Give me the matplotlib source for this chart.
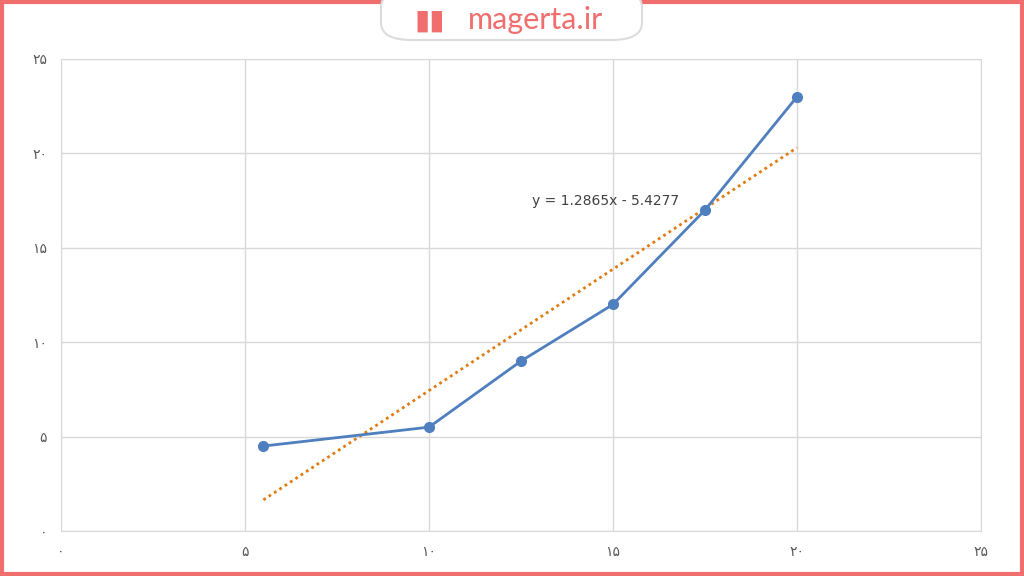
import matplotlib
matplotlib.use("Agg")
import matplotlib.pyplot as plt
from matplotlib.patches import FancyBboxPatch, Rectangle

x_vals = [5.5, 10, 12.5, 15, 17.5, 20]
y_vals = [4.5, 5.5, 9, 12, 17, 23]
slope, intercept = 1.2865, -5.4277
tick_vals = [0, 5, 10, 15, 20, 25]
tick_labels = ["۰", "۵", "۱۰", "۱۵", "۲۰", "۲۵"]

LINE = "#4f7fbf"
TREND = "#e07b10"
GRID = "#d9d9d9"
BRAND = "#f06e6e"

fig = plt.figure(figsize=(10.24, 5.76), dpi=100, facecolor="white")
ax = fig.add_axes([61 / 1024, 45 / 576, 920 / 1024, 472 / 576])

ax.plot(x_vals, y_vals, color=LINE, linewidth=2, marker="o", markersize=7, zorder=3)
tx = [x_vals[0], x_vals[-1]]
ax.plot(tx, [slope * v + intercept for v in tx], color=TREND, linestyle=(0, (1, 1.3)),
        linewidth=2, zorder=2)
ax.text(14.8, 17.1, f"y = {slope}x - {abs(intercept)}", fontsize=10, color="#404040",
        ha="center", va="bottom")

ax.set_xlim(0, 25)
ax.set_ylim(0, 25)
ax.set_xticks(tick_vals, tick_labels)
ax.set_yticks(tick_vals, tick_labels)
ax.tick_params(length=0, labelsize=10, colors="#595959", pad=10)
ax.grid(True, color=GRID, linewidth=1)
for s in ax.spines.values():
    s.set_color(GRID)

# page border + logo pill
fig.patches.append(Rectangle((0.002, 0.003), 0.996, 0.994, transform=fig.transFigure,
                             fill=False, edgecolor=BRAND, linewidth=3))
fig.patches.append(FancyBboxPatch((381 / 1024, 536 / 576), 261 / 1024, 50 / 576,
                                  boxstyle="round,pad=0,rounding_size=0.03",
                                  transform=fig.transFigure, facecolor="white",
                                  edgecolor="#dcdcdc", linewidth=1.5, zorder=5))
fig.text(430 / 1024, 555 / 576, "\u25ae\u25ae", color=BRAND, fontsize=20, ha="center",
         va="center", zorder=6)
fig.text(535 / 1024, 556 / 576, "magerta.ir", color=BRAND, fontsize=22, ha="center",
         va="center", family="Lato", zorder=6)

fig.savefig("out.png", dpi=100, facecolor="white")
